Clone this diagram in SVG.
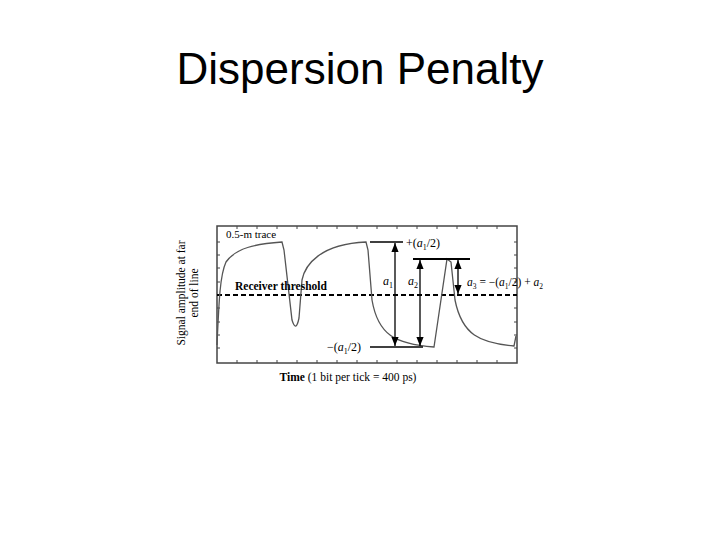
<svg xmlns="http://www.w3.org/2000/svg" width="720" height="540" viewBox="0 0 720 540">
<style>
.t{font-family:"Liberation Serif",serif;fill:#000}
.w{fill:none;stroke:#555;stroke-width:1.3}
.k{stroke:#000;stroke-width:1.3}
</style>
<defs>
<marker id="a" viewBox="0 0 10 10" refX="10" refY="5" markerWidth="7" markerHeight="7" orient="auto-start-reverse"><path d="M0,1L10,5L0,9z" fill="#000"/></marker>
</defs>
<rect width="720" height="540" fill="#fff"/>
<text x="360" y="84" text-anchor="middle" font-family="Liberation Sans,Arial,sans-serif" font-size="44">Dispersion Penalty</text>
<g id="plot">
<rect x="217" y="226" width="300" height="137" fill="none" stroke="#444" stroke-width="1.5"/>
<path stroke="#444" stroke-width="1" d="M217,242h3M217,255h3M217,268h3M217,282h3M217,295h3M217,308h3M217,322h3M217,335h3M217,348h3M517,242h-3M517,255h-3M517,268h-3M517,282h-3M517,295h-3M517,308h-3M517,322h-3M517,335h-3M517,348h-3M237,226v3M257,226v3M277,226v3M297,226v3M317,226v3M337,226v3M357,226v3M377,226v3M397,226v3M417,226v3M437,226v3M457,226v3M477,226v3M497,226v3M237,363v-3M257,363v-3M277,363v-3M297,363v-3M317,363v-3M337,363v-3M357,363v-3M377,363v-3M397,363v-3M417,363v-3M437,363v-3M457,363v-3M477,363v-3M497,363v-3"/>
<line x1="217" y1="295" x2="517" y2="295" stroke="#000" stroke-width="2" stroke-dasharray="5,3"/>
<path class="w" d="M217,345C219,300 220,275 226,262C236,248 255,244 282,242L284,250L292,320Q296,333 299,318L302,280C305,265 320,244 366,242L368,250L372,300C378,335 395,344 434,347L438,320L447,259L451,262L455,300C462,335 480,343 514,346L516,336"/>
<text class="t" x="226" y="238" font-size="11">0.5-m trace</text>
<text class="t" x="235" y="290" font-size="11.5" font-weight="bold">Receiver threshold</text>
</g>
<g id="annotations">
<line class="k" x1="370" y1="242" x2="403" y2="242"/>
<line class="k" x1="370" y1="347" x2="423" y2="347"/>
<line x1="413" y1="259" x2="470" y2="259" stroke="#000" stroke-width="2"/>
<line class="k" x1="395" y1="243" x2="395" y2="346" marker-start="url(#a)" marker-end="url(#a)"/>
<line class="k" x1="420" y1="260" x2="420" y2="346" marker-start="url(#a)" marker-end="url(#a)"/>
<line class="k" x1="458" y1="260" x2="458" y2="294" stroke-width="2" marker-start="url(#a)" marker-end="url(#a)"/>
<text class="t" x="406" y="247" font-size="12">+(<tspan font-style="italic">a</tspan><tspan font-size="8" dy="3">1</tspan><tspan dy="-3">/2)</tspan></text>
<text class="t" x="327" y="351" font-size="12">−(<tspan font-style="italic">a</tspan><tspan font-size="8" dy="3">1</tspan><tspan dy="-3">/2)</tspan></text>
<text class="t" x="383" y="285" font-size="12" font-style="italic">a<tspan font-size="8" dy="3" font-style="normal">1</tspan></text>
<text class="t" x="408" y="285" font-size="12" font-style="italic">a<tspan font-size="8" dy="3" font-style="normal">2</tspan></text>
<text class="t" x="467" y="286" font-size="11.5"><tspan font-style="italic">a</tspan><tspan font-size="7.5" dy="3">3</tspan><tspan dy="-3"> = −(</tspan><tspan font-style="italic">a</tspan><tspan font-size="7.5" dy="3">1</tspan><tspan dy="-3">/2) + </tspan><tspan font-style="italic">a</tspan><tspan font-size="7.5" dy="3">2</tspan></text>
</g>
<g id="axes-labels">
<text class="t" x="348" y="381" font-size="11.5" text-anchor="middle"><tspan font-weight="bold">Time</tspan> (1 bit per tick = 400 ps)</text>
<text class="t" font-size="11.5" text-anchor="middle" transform="translate(185,293) rotate(-90)">Signal amplitude at far</text>
<text class="t" font-size="11.5" text-anchor="middle" transform="translate(198,293) rotate(-90)">end of line</text>
</g>
</svg>
